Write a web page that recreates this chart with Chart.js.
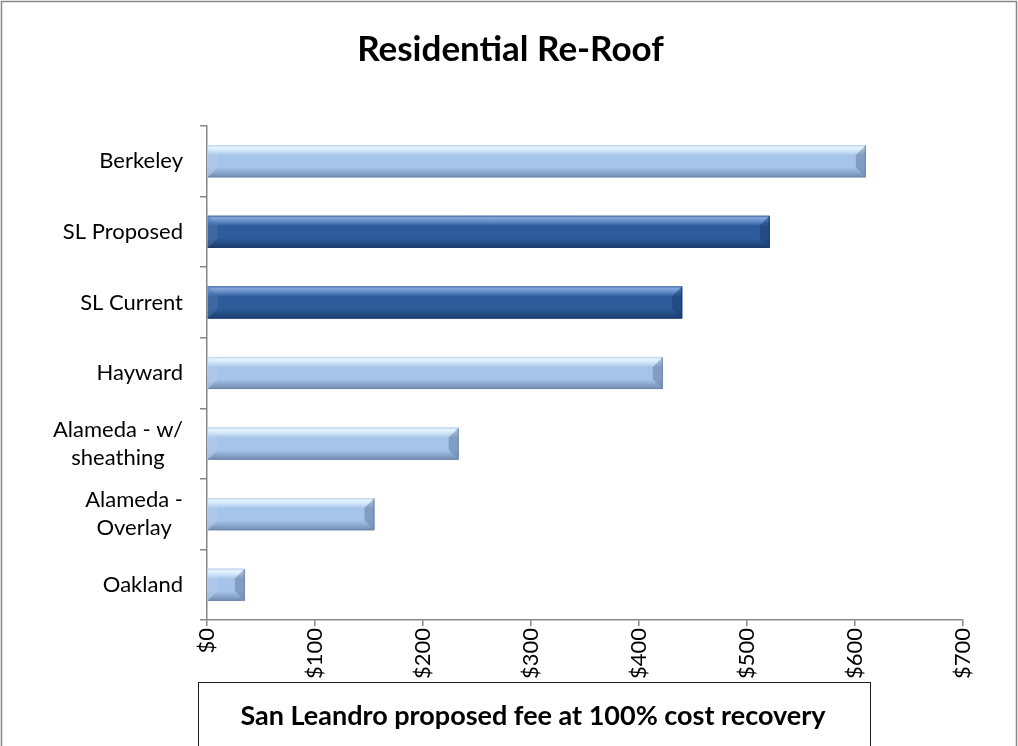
<!DOCTYPE html>
<html>
<head>
<meta charset="utf-8">
<title>Residential Re-Roof</title>
<script src="https://cdn.jsdelivr.net/npm/chart.js@4/dist/chart.umd.min.js"></script>
<style>
  html, body { margin: 0; padding: 0; background: #ffffff; }
  canvas { display: block; }
</style>
</head>
<body>
<canvas id="chart" width="1018" height="746"></canvas>
<script>
// ---- data ----
const categories = [
  'Berkeley',
  'SL Proposed',
  'SL Current',
  'Hayward',
  ['Alameda - w/', 'sheathing'],
  ['Alameda -', 'Overlay'],
  'Oakland'
];
const fees = [610, 521, 440, 422, 233, 155, 35];
const sanLeandroBars = ['SL Proposed', 'SL Current'];
const feeTicks = [0, 100, 200, 300, 400, 500, 600, 700];
const chartTitle = 'Residential Re-Roof';
const noteText = 'San Leandro proposed fee at 100% cost recovery';

// ---- styling ----
const FONT = 'Lato, "Open Sans", "DejaVu Sans", sans-serif';
const LABEL_SIZE = 22;
const AXIS_GREY = '#878787';
const palettes = {
  light: { hi: '#dcf1ff', body: '#a6c4e9', low: '#93b0d7', edge: '#6f87a8', rim: '#c4d8ef' },
  dark:  { hi: '#5a8ace', body: '#2e5c9b', low: '#224a80', edge: '#1d3c69', rim: '#4a75b2' }
};
const isSanLeandro = (label) => sanLeandroBars.includes(Array.isArray(label) ? label.join(' ') : label);
const barPalette = categories.map(c => isSanLeandro(c) ? palettes.dark : palettes.light);

// Paints a bevelled, shaded bar into the rectangle the bar element occupies.
function paintBevelBar(ctx, l, t, r, b, pal) {
  const w = r - l, h = b - t;
  if (w <= 0 || h <= 0) return;
  const bv = Math.min(h * 0.31, w / 2);
  ctx.save();
  // body
  const g = ctx.createLinearGradient(0, t, 0, b);
  g.addColorStop(0, pal.rim);
  g.addColorStop(0.09, pal.hi);
  g.addColorStop(0.32, pal.body);
  g.addColorStop(0.7, pal.body);
  g.addColorStop(1, pal.low);
  ctx.fillStyle = g;
  ctx.fillRect(l, t, w, h);
  // top facet (highlight)
  const gt = ctx.createLinearGradient(0, t, 0, t + bv);
  gt.addColorStop(0, 'rgba(255,255,255,0.30)');
  gt.addColorStop(1, 'rgba(255,255,255,0.0)');
  ctx.fillStyle = gt;
  ctx.beginPath();
  ctx.moveTo(l, t); ctx.lineTo(r, t); ctx.lineTo(r - bv, t + bv); ctx.lineTo(l + bv, t + bv);
  ctx.closePath(); ctx.fill();
  // bottom facet (shade)
  const gb = ctx.createLinearGradient(0, b - bv, 0, b);
  gb.addColorStop(0, 'rgba(0,20,60,0.0)');
  gb.addColorStop(1, 'rgba(0,20,60,0.22)');
  ctx.fillStyle = gb;
  ctx.beginPath();
  ctx.moveTo(l, b); ctx.lineTo(r, b); ctx.lineTo(r - bv, b - bv); ctx.lineTo(l + bv, b - bv);
  ctx.closePath(); ctx.fill();
  // left facet (slightly lit)
  ctx.fillStyle = 'rgba(255,255,255,0.08)';
  ctx.beginPath();
  ctx.moveTo(l, t); ctx.lineTo(l + bv, t + bv); ctx.lineTo(l + bv, b - bv); ctx.lineTo(l, b);
  ctx.closePath(); ctx.fill();
  // right facet (shade)
  ctx.fillStyle = 'rgba(0,20,60,0.22)';
  ctx.beginPath();
  ctx.moveTo(r, t); ctx.lineTo(r - bv, t + bv); ctx.lineTo(r - bv, b - bv); ctx.lineTo(r, b);
  ctx.closePath(); ctx.fill();
  // outline
  ctx.strokeStyle = pal.edge;
  ctx.lineWidth = 1;
  ctx.beginPath();
  ctx.moveTo(r - 0.5, t + 0.5); ctx.lineTo(r - 0.5, b - 0.5); ctx.lineTo(l, b - 0.5);
  ctx.stroke();
  ctx.strokeStyle = pal.rim;
  ctx.beginPath();
  ctx.moveTo(l, t + 0.5); ctx.lineTo(r - 0.5, t + 0.5);
  ctx.stroke();
  ctx.restore();
}

// Chart frame, white background and the centred heading.
const framePlugin = {
  id: 'frame',
  beforeDraw(chart) {
    const { ctx, width, height } = chart;
    ctx.save();
    ctx.fillStyle = '#ffffff';
    ctx.fillRect(0, 0, width, height);
    ctx.strokeStyle = AXIS_GREY;
    ctx.lineWidth = 1.5;
    ctx.strokeRect(1.5, 1.5, width - 3, height + 20);
    ctx.fillStyle = '#000000';
    ctx.font = `bold 35px ${FONT}`;
    ctx.textAlign = 'center';
    ctx.textBaseline = 'middle';
    ctx.fillText(chartTitle, 510.5, 50);
    ctx.restore();
  }
};

// Re-shades every bar the controller laid out, using its own geometry.
const bevelPlugin = {
  id: 'bevel',
  afterDatasetsDraw(chart) {
    const ctx = chart.ctx;
    chart.getDatasetMeta(0).data.forEach((bar, i) => {
      const { x, y, base, height } = bar.getProps(['x', 'y', 'base', 'height'], true);
      paintBevelBar(ctx, Math.min(base, x), y - height / 2, Math.max(base, x), y + height / 2, barPalette[i]);
    });
  }
};

// Category labels: each block right-aligned against the axis, its lines centred on each other.
const categoryLabelPlugin = {
  id: 'categoryLabels',
  afterDraw(chart) {
    const scale = chart.scales.y;
    const ctx = chart.ctx;
    const lineH = 28;
    const rightEdge = scale.right - 7 - 17;
    ctx.save();
    ctx.font = `${LABEL_SIZE}px ${FONT}`;
    ctx.fillStyle = '#000000';
    ctx.textAlign = 'center';
    ctx.textBaseline = 'middle';
    categories.forEach((label, i) => {
      const lines = Array.isArray(label) ? label : [label];
      const widest = Math.max(...lines.map(s => ctx.measureText(s).width));
      const cx = rightEdge - widest / 2;
      const cy = scale.getPixelForValue(i);
      lines.forEach((s, k) => {
        ctx.fillText(s, cx, cy + (k - (lines.length - 1) / 2) * lineH);
      });
    });
    ctx.restore();
  }
};

// Boxed note below the axis.
const notePlugin = {
  id: 'note',
  afterDraw(chart) {
    const ctx = chart.ctx;
    ctx.save();
    ctx.fillStyle = '#ffffff';
    ctx.fillRect(198.5, 682.5, 672, 80);
    ctx.strokeStyle = '#1a1a1a';
    ctx.lineWidth = 1;
    ctx.strokeRect(198.5, 682.5, 672, 80);
    ctx.fillStyle = '#000000';
    ctx.font = `bold 27px ${FONT}`;
    ctx.textAlign = 'center';
    ctx.textBaseline = 'middle';
    ctx.fillText(noteText, 533, 716);
    ctx.restore();
  }
};

new Chart(document.getElementById('chart'), {
  type: 'bar',
  data: {
    labels: categories,
    datasets: [{
      data: fees,
      backgroundColor: barPalette.map(p => p.body),
      borderWidth: 0,
      categoryPercentage: 1,
      barPercentage: 0.455
    }]
  },
  options: {
    indexAxis: 'y',
    responsive: false,
    devicePixelRatio: 1,
    animation: false,
    layout: { padding: { left: 0, right: 55, top: 126, bottom: 0 } },
    plugins: {
      legend: { display: false },
      tooltip: { enabled: false },
      title: { display: false }
    },
    scales: {
      x: {
        min: feeTicks[0],
        max: feeTicks[feeTicks.length - 1],
        afterBuildTicks(scale) { scale.ticks = feeTicks.map(v => ({ value: v })); },
        afterFit(scale) { scale.height = 126; },
        border: { display: true, color: AXIS_GREY, width: 1.5 },
        grid: { drawOnChartArea: false, drawTicks: true, tickLength: 6, color: AXIS_GREY, lineWidth: 1.5 },
        ticks: {
          minRotation: 90,
          maxRotation: 90,
          padding: 2,
          color: '#000000',
          font: { family: FONT, size: LABEL_SIZE },
          callback: (v) => '$' + v
        }
      },
      y: {
        afterFit(scale) { scale.width = 207; },
        border: { display: true, color: AXIS_GREY, width: 1.5 },
        grid: { drawOnChartArea: false, drawTicks: true, tickLength: 7, color: AXIS_GREY, lineWidth: 1.5, offset: true },
        ticks: { display: false }
      }
    }
  },
  plugins: [framePlugin, bevelPlugin, categoryLabelPlugin, notePlugin]
});
</script>
</body>
</html>
